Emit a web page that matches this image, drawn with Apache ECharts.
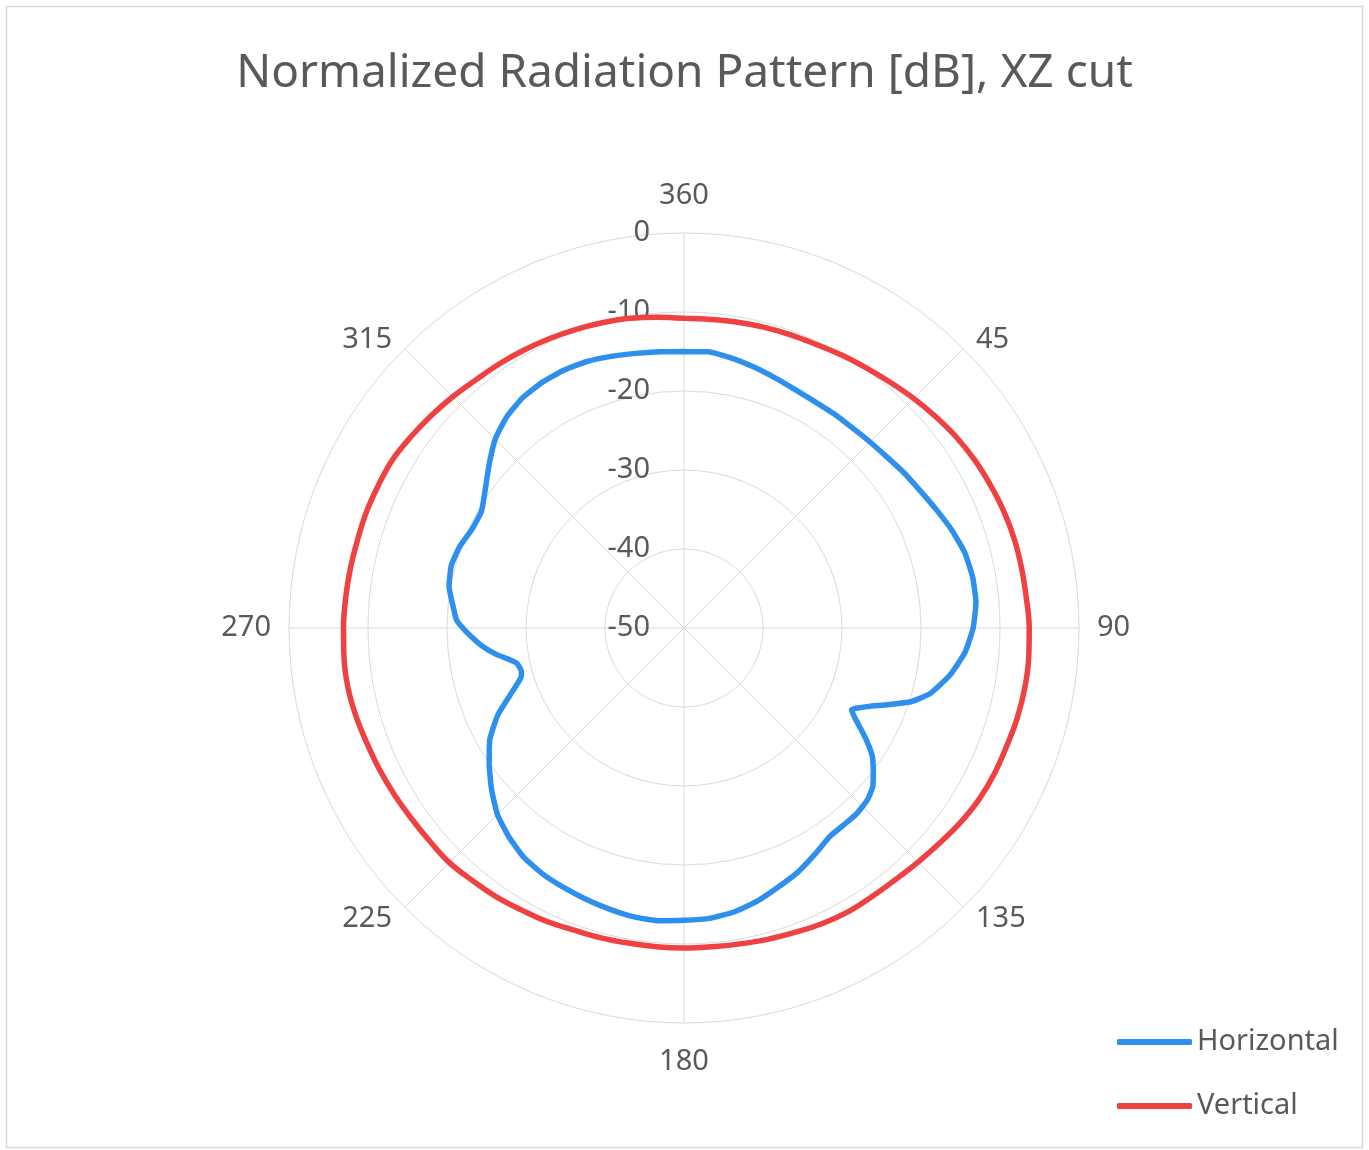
<!DOCTYPE html>
<html>
<head>
<meta charset="utf-8">
<script src="https://cdn.jsdelivr.net/npm/echarts@6/dist/echarts.min.js"></script>
<style>
html,body{margin:0;padding:0;background:#fff;}
#chart{width:1369px;height:1150px;}
</style>
</head>
<body>
<div id="chart"></div>
<script>
const titleText = 'Normalized Radiation Pattern [dB], XZ cut';
const seriesNames = ['Horizontal', 'Vertical'];
const angleTicks = [0, 45, 90, 135, 180, 225, 270, 315];
const radiusTicks = [-50, -40, -30, -20, -10, 0];

const hAngles = [0,5,10,15,20,25,30,35,40,45,50,55,60,65,70,75,80,85,90,95,100,105,108,111,113,116,118,121,124,127,130,133,137,140,145,150,155,160,165,170,175,180,185,190,195,200,205,210,215,220,225,230,235,240,245,250,253,255,258,260,262,265,268,270,272,275,280,285,290,295,300,305,310,315,320,325,330,335,340,345,350,355,360];
const hValues = [-15.0,-14.9,-15.3,-15.8,-16.3,-16.7,-16.9,-16.9,-16.9,-16.7,-16.4,-15.9,-15.4,-14.7,-13.9,-13.2,-12.9,-12.9,-13.4,-14.3,-15.8,-17.8,-19.8,-22.8,-24.6,-26.4,-25.4,-23.3,-21.3,-20.0,-18.8,-18.2,-17.9,-17.9,-17.8,-16.9,-15.9,-15.1,-14.2,-13.5,-13.1,-13.0,-12.8,-12.9,-13.2,-13.5,-13.8,-14.1,-14.6,-15.5,-16.6,-18.2,-19.9,-21.6,-24.0,-27.0,-28.4,-28.7,-28.4,-27.4,-26.0,-24.3,-22.9,-22.0,-21.2,-20.7,-19.8,-19.5,-19.8,-20.4,-20.4,-19.3,-17.8,-16.2,-15.1,-14.4,-14.1,-14.0,-14.1,-14.4,-14.7,-14.9,-15.0];

const vAngles = [0,5,10,15,20,25,30,35,40,45,50,55,60,65,70,75,80,85,90,95,100,105,110,115,120,125,130,135,140,145,150,155,160,165,170,175,180,185,190,195,200,205,210,215,220,225,230,235,240,245,250,255,260,265,270,275,280,285,290,295,300,305,310,315,320,325,330,335,340,345,350,355,360];
const vValues = [-10.8,-10.8,-10.7,-10.6,-10.5,-10.4,-10.1,-9.8,-9.4,-8.9,-8.4,-7.9,-7.5,-7.2,-6.9,-6.7,-6.6,-6.5,-6.3,-6.2,-6.2,-6.3,-6.5,-6.6,-6.8,-7.2,-7.7,-8.1,-8.4,-8.5,-8.5,-8.7,-9.0,-9.2,-9.4,-9.5,-9.5,-9.5,-9.5,-9.4,-9.3,-9.0,-8.8,-8.5,-8.3,-8.0,-8.0,-7.9,-7.7,-7.5,-7.3,-7.0,-6.8,-6.8,-6.9,-7.0,-7.1,-7.2,-7.2,-7.3,-7.4,-7.8,-8.2,-8.6,-9.0,-9.2,-9.4,-9.6,-9.8,-10.0,-10.2,-10.5,-10.8];

const colors = ['#2E8FEC', '#EF4141'];
const FONT = 'Noto Sans';
const TXT = '#595959';

function pairs(values, angles){ return values.map((v,i)=>[v, angles[i]]); }
function angleLabel(v){
  if (v === 0) return '{t|360}';
  if (v === 180) return '{b|180}';
  if (v === 45 || v === 315) return '{u|' + v + '}';
  if (v === 135 || v === 225) return '{d|' + v + '}';
  return '{m|' + v + '}';
}
const tokenBase = {fontFamily:FONT, fontSize:29, color:TXT, lineHeight:30};

const chart = echarts.init(document.getElementById('chart'), null, {renderer:'canvas'});
chart.setOption({
  animation:false,
  backgroundColor:'#fff',
  title:{
    text:titleText, left:'center', top:46,
    textStyle:{fontFamily:FONT, fontSize:46, fontWeight:'normal', color:TXT}
  },
  legend:{
    orient:'vertical', left:1112, top:1021,
    itemWidth:75, itemHeight:6, itemGap:32, icon:'roundRect',
    textStyle:{fontFamily:FONT, fontSize:29, color:TXT, lineHeight:32},
    data:seriesNames
  },
  graphic:[{type:'rect', shape:{x:6.5,y:6.5,width:1356,height:1141}, style:{fill:'none', stroke:'#d9d9d9', lineWidth:1.5}, silent:true}],
  polar:{center:[684,628], radius:395},
  angleAxis:{
    type:'value', min:0, max:360, interval:45, startAngle:90, clockwise:true,
    axisLine:{show:false}, axisTick:{show:false},
    axisLabel:{
      margin:18, fontFamily:FONT, fontSize:29, color:TXT,
      formatter:angleLabel,
      rich:{
        t:Object.assign({}, tokenBase, {padding:[0,0,8,0]}),
        b:Object.assign({}, tokenBase, {padding:[11,0,0,0]}),
        u:Object.assign({}, tokenBase, {padding:[0,0,-38,0]}),
        d:Object.assign({}, tokenBase, {padding:[-32,0,0,0]}),
        m:Object.assign({}, tokenBase)
      }
    },
    splitLine:{show:true, lineStyle:{color:'#d9d9d9', width:1}}
  },
  radiusAxis:{
    type:'value', min:radiusTicks[0], max:radiusTicks[radiusTicks.length-1], interval:10,
    axisLine:{show:false}, axisTick:{show:false},
    axisLabel:{margin:34, fontFamily:FONT, fontSize:29, color:TXT},
    splitLine:{show:true, lineStyle:{color:'#d9d9d9', width:1}}
  },
  series:[
    {name:seriesNames[0], type:'line', coordinateSystem:'polar', showSymbol:false, smooth:0.15,
     lineStyle:{color:colors[0], width:5.5, cap:'round', join:'round'}, itemStyle:{color:colors[0]},
     data:pairs(hValues,hAngles)},
    {name:seriesNames[1], type:'line', coordinateSystem:'polar', showSymbol:false, smooth:0.4,
     lineStyle:{color:colors[1], width:5.5, cap:'round', join:'round'}, itemStyle:{color:colors[1]},
     data:pairs(vValues,vAngles)}
  ]
});
</script>
</body>
</html>
